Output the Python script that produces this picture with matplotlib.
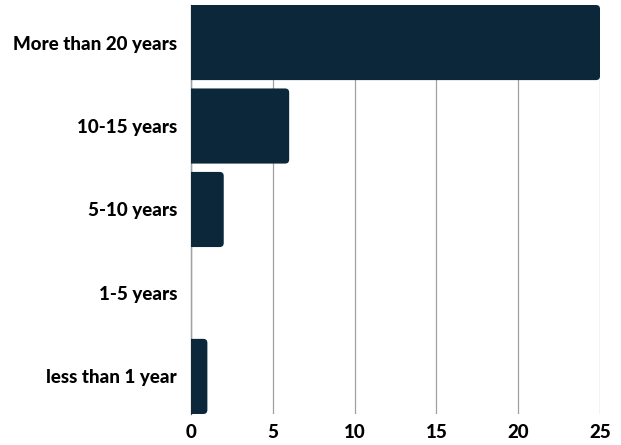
import matplotlib.pyplot as plt
from matplotlib.patches import FancyBboxPatch

categories = ["More than 20 years", "10-15 years", "5-10 years", "1-5 years", "less than 1 year"]
values = [25, 6, 2, 0, 1]
xticks = [0, 5, 10, 15, 20, 25]

bar_color = "#0b2739"

fig = plt.figure(figsize=(6.21, 4.45), dpi=100)
ax = fig.add_axes([0.3076, 0.0697, 0.6586, 0.9191])

ypos = list(range(len(categories)))
bars = ax.barh(ypos, values, height=0.9, color=bar_color)
ax.set_ylim(len(categories) - 0.55, -0.45)
ax.set_xlim(0, 25)

# rounded right ends: replace plain rectangles by rounded boxes
for rect in bars:
    w = rect.get_width()
    if w <= 0:
        rect.set_visible(False)
        continue
    y0 = rect.get_y()
    h = rect.get_height()
    box = FancyBboxPatch((-0.6, y0), w + 0.6, h,
                         boxstyle="round,pad=0,rounding_size=0.25",
                         mutation_aspect=0.196, facecolor=bar_color,
                         edgecolor="none", zorder=3, clip_on=True)
    ax.add_patch(box)
    rect.set_visible(False)

ax.set_yticks(ypos)
ax.set_yticklabels(categories, fontsize=13.5, fontweight="black", family="Lato")
ax.set_xticks(xticks)
ax.set_xticklabels([str(t) for t in xticks], fontsize=13.5, fontweight="black", family="Lato")
ax.tick_params(axis="both", length=0, colors="black")
ax.tick_params(axis="y", pad=10)
ax.tick_params(axis="x", pad=7)

ax.grid(axis="x", color="#a0a0a0", linewidth=0.9, zorder=0)
ax.set_axisbelow(True)
for s in ["top", "right", "bottom"]:
    ax.spines[s].set_visible(False)
ax.spines["left"].set_color("#555555")
ax.spines["left"].set_linewidth(0.9)
ax.spines["left"].set_zorder(0.5)

fig.savefig("out.png", dpi=100)
